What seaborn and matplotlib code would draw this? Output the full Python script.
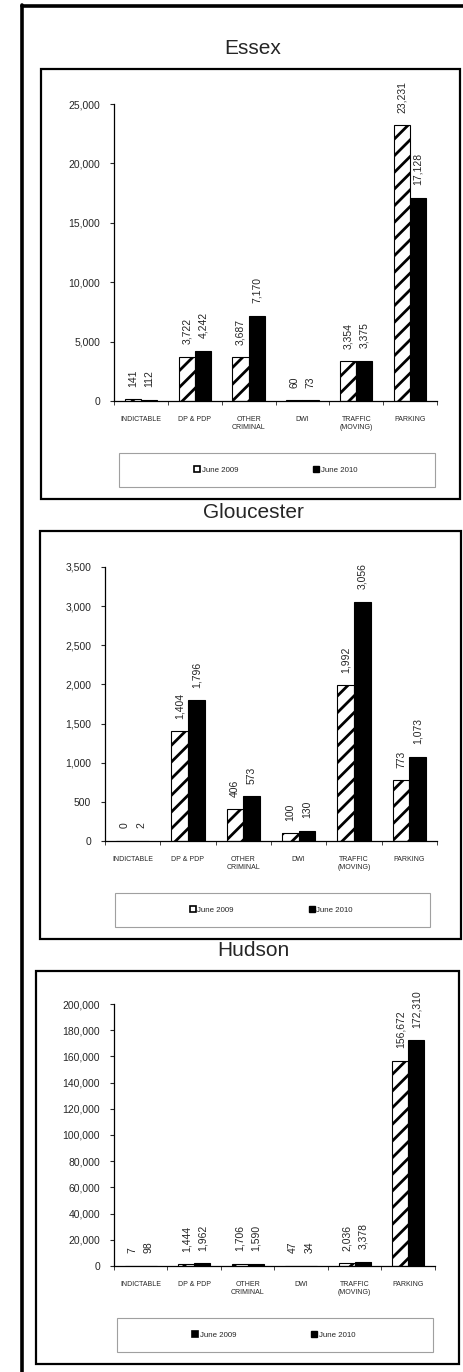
#!/usr/bin/env python3

import pandas as pd
import seaborn as sns
import matplotlib
matplotlib.use('Agg')
import matplotlib.pyplot as plt
from matplotlib.patches import Rectangle
from matplotlib.lines import Line2D
from matplotlib.ticker import FuncFormatter, MultipleLocator

# Data
categories = ['INDICTABLE', 'DP & PDP', 'OTHER\nCRIMINAL', 'DWI',
              'TRAFFIC\n(MOVING)', 'PARKING']
years = ['June 2009', 'June 2010']
counties = ['Essex', 'Gloucester', 'Hudson']

essex_2009 = [141, 3722, 3687, 60, 3354, 23231]
essex_2010 = [112, 4242, 7170, 73, 3375, 17128]
gloucester_2009 = [0, 1404, 406, 100, 1992, 773]
gloucester_2010 = [2, 1796, 573, 130, 3056, 1073]
hudson_2009 = [7, 1444, 1706, 47, 2036, 156672]
hudson_2010 = [98, 1962, 1590, 34, 3378, 172310]

y_max = [25000, 3500, 200000]
y_step = [5000, 500, 20000]

W, H = 464, 1372


def fx(px):
    return px / W


def fy(py):
    return 1 - py / H


def box(x0, y0, x1, y1):
    return [fx(x0), fy(y1), fx(x1) - fx(x0), fy(y0) - fy(y1)]


def make_frame(county, v2009, v2010):
    df = pd.DataFrame({'category': categories * 2,
                       'year': [years[0]] * 6 + [years[1]] * 6,
                       'value': v2009 + v2010})
    df['county'] = county
    return df


# layout in pixels: panel box, title y, axes box, legend box
layout = {
    'Essex': dict(panel=(41, 69, 460, 499), title=49,
                  axes=(114, 104, 437, 401), legend=(119, 453, 435, 487)),
    'Gloucester': dict(panel=(40, 531, 461, 939), title=513,
                       axes=(105, 567, 437, 841), legend=(115, 893, 430, 927)),
    'Hudson': dict(panel=(36, 971, 459, 1364), title=951,
                   axes=(114, 1004, 435, 1266), legend=(117, 1318, 433, 1352)),
}

sns.set_style('white')
plt.rcParams['font.family'] = ['Liberation Sans', 'DejaVu Sans']
plt.rcParams['hatch.linewidth'] = 2.0
plt.rcParams['hatch.color'] = 'black'

fig = plt.figure(figsize=(W / 100, H / 100), dpi=100)

# outer frame (top and left edges)
fig.add_artist(Line2D([fx(22), fx(22)], [fy(5), 0], color='black', lw=2.6,
                      transform=fig.transFigure))
fig.add_artist(Line2D([fx(22), 1], [fy(6), fy(6)], color='black', lw=2.6,
                      transform=fig.transFigure))

frames = [make_frame('Essex', essex_2009, essex_2010),
          make_frame('Gloucester', gloucester_2009, gloucester_2010),
          make_frame('Hudson', hudson_2009, hudson_2010)]

for i, (county, df) in enumerate(zip(counties, frames)):
    lay = layout[county]

    # panel border and title
    px0, py0, px1, py1 = lay['panel']
    fig.add_artist(Rectangle((fx(px0), fy(py1)), fx(px1) - fx(px0),
                             fy(py0) - fy(py1), transform=fig.transFigure,
                             fill=False, edgecolor='black', lw=1.6))
    fig.text(fx(253), fy(lay['title']), county, ha='center', va='center',
             fontsize=15)

    ax = fig.add_axes(box(*lay['axes']))
    sns.barplot(data=df, x='category', y='value', hue='year',
                order=categories, hue_order=years,
                palette=['white', 'black'], edgecolor='black', linewidth=0.8,
                width=0.6, legend=False, ax=ax)

    for bar in ax.containers[0]:
        bar.set_hatch('//')

    for cont, vals in zip(ax.containers, [df['value'][:6], df['value'][6:]]):
        ax.bar_label(cont, labels=['{:,}'.format(v) for v in vals],
                     rotation=90, padding=9, fontsize=7.5)

    ax.set_ylim(0, y_max[i])
    ax.set_xlim(-0.5, 5.5)
    ax.yaxis.set_major_locator(MultipleLocator(y_step[i]))
    ax.yaxis.set_major_formatter(FuncFormatter(lambda v, p: '{:,.0f}'.format(v)))
    ax.set_xticks(range(6))
    ax.set_xticklabels(categories, fontsize=5, linespacing=1.2)
    ax.set_xticks([k + 0.5 for k in range(-1, 6)], minor=True)
    ax.tick_params(axis='x', which='major', length=0, pad=11)
    ax.tick_params(axis='x', which='minor', length=3, width=0.6,
                   direction='out', bottom=True)
    ax.tick_params(axis='y', length=3, width=0.8, direction='out', left=True,
                   labelsize=7.5, pad=7)
    ax.set_xlabel('')
    ax.set_ylabel('')
    for side in ['top', 'right']:
        ax.spines[side].set_visible(False)
    for side in ['left', 'bottom']:
        ax.spines[side].set_color('black')
        ax.spines[side].set_linewidth(0.9)

    # legend box and entries
    lx0, ly0, lx1, ly1 = lay['legend']
    fig.add_artist(Rectangle((fx(lx0), fy(ly1)), fx(lx1) - fx(lx0),
                             fy(ly0) - fy(ly1), transform=fig.transFigure,
                             fill=False, edgecolor='#a0a0a0', lw=0.8))
    face_2009 = 'black' if county == 'Hudson' else 'white'
    handles = [Line2D([], [], marker='s', linestyle='', markersize=4,
                      markerfacecolor=face_2009, markeredgecolor='black',
                      markeredgewidth=1.2),
               Line2D([], [], marker='s', linestyle='', markersize=4,
                      markerfacecolor='black', markeredgecolor='black')]
    fig.legend(handles, years, loc='center',
               bbox_to_anchor=(fx((lx0 + lx1) / 2 - 1), fy((ly0 + ly1) / 2)),
               ncol=2, frameon=False, fontsize=5.7, handlelength=0.6,
               handletextpad=0.25, columnspacing=9.6)

plt.savefig('out.png', dpi=100)
